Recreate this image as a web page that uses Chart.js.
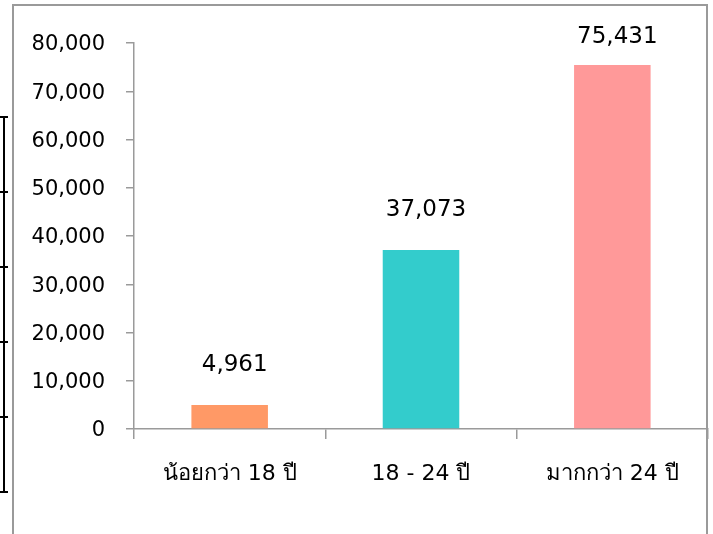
<!DOCTYPE html>
<html>
<head>
    <title>Age groups</title>
    <meta charset="UTF-8">
    <style>
        body { margin: 0; background: #fff; }
        #wrap { position: relative; width: 713px; height: 534px; overflow: hidden; }
        #myChart { position: absolute; left: 0; top: 0; }
        .frame { position: absolute; background: #9a9a9a; }
        .mark { position: absolute; background: #000; }
    </style>
</head>
<body>
<div id="wrap">
    <canvas id="myChart" width="713" height="534"></canvas>
    <div class="frame" style="left:12px;top:4px;width:696px;height:2px"></div>
    <div class="frame" style="left:12px;top:4px;width:2px;height:530px"></div>
    <div class="frame" style="left:706px;top:4px;width:2px;height:530px"></div>
    <div class="mark" style="left:3px;top:116px;width:2px;height:377px"></div>
    <div class="mark" style="left:0;top:116px;width:8px;height:2px"></div>
    <div class="mark" style="left:0;top:191px;width:8px;height:2px"></div>
    <div class="mark" style="left:0;top:266px;width:8px;height:2px"></div>
    <div class="mark" style="left:0;top:341px;width:8px;height:2px"></div>
    <div class="mark" style="left:0;top:416px;width:8px;height:2px"></div>
    <div class="mark" style="left:0;top:491px;width:8px;height:2px"></div>
</div>
<script src="https://cdn.jsdelivr.net/npm/chart.js@4"></script>
<script>
    var labels = ['น้อยกว่า 18 ปี', '18 - 24 ปี', 'มากกว่า 24 ปี'];
    var counts = [4961, 37073, 75431];
    var colors = ['#ff9966', '#33cccc', '#ff9999'];

    var fontFamily = 'Tahoma, "DejaVu Sans", "Noto Sans", sans-serif';

    // numbers above each bar
    var valueLabels = {
        id: 'valueLabels',
        afterDatasetsDraw: function (chart) {
            var ctx = chart.ctx;
            var meta = chart.getDatasetMeta(0);
            ctx.save();
            ctx.font = '23px ' + fontFamily;
            ctx.fillStyle = '#000';
            ctx.textAlign = 'center';
            ctx.textBaseline = 'middle';
            meta.data.forEach(function (bar, i) {
                var y = Math.max(bar.y - 40, 37);
                ctx.fillText(counts[i].toLocaleString('en-US'), bar.x + 5, y);
            });
            ctx.restore();
        }
    };

    var ctx = document.getElementById('myChart').getContext('2d');
    new Chart(ctx, {
        type: 'bar',
        data: {
            labels: labels,
            datasets: [{
                data: counts,
                backgroundColor: colors,
                borderWidth: 0,
                barPercentage: 0.8,
                categoryPercentage: 0.5
            }]
        },
        options: {
            responsive: false,
            animation: false,
            layout: { padding: { top: 43, right: 5, left: 0, bottom: 0 } },
            plugins: {
                legend: { display: false },
                tooltip: { enabled: false }
            },
            scales: {
                x: {
                    afterFit: function (scale) { scale.height = 105; },
                    grid: { drawOnChartArea: false, tickLength: 10, color: '#9a9a9a', lineWidth: 1.5 },
                    border: { color: '#9a9a9a', width: 1.5 },
                    ticks: { color: '#000', padding: 22, font: { family: fontFamily, size: 22 } }
                },
                y: {
                    min: 0,
                    max: 80000,
                    afterFit: function (scale) { scale.width = 134; },
                    grid: { drawOnChartArea: false, tickLength: 8, color: '#9a9a9a', lineWidth: 1.5 },
                    border: { color: '#9a9a9a', width: 1.5 },
                    ticks: {
                        stepSize: 10000,
                        color: '#000',
                        padding: 21,
                        labelOffset: 2,
                        font: { family: fontFamily, size: 21 },
                        callback: function (v) { return v.toLocaleString('en-US'); }
                    }
                }
            }
        },
        plugins: [valueLabels]
    });
</script>
</body>
</html>
